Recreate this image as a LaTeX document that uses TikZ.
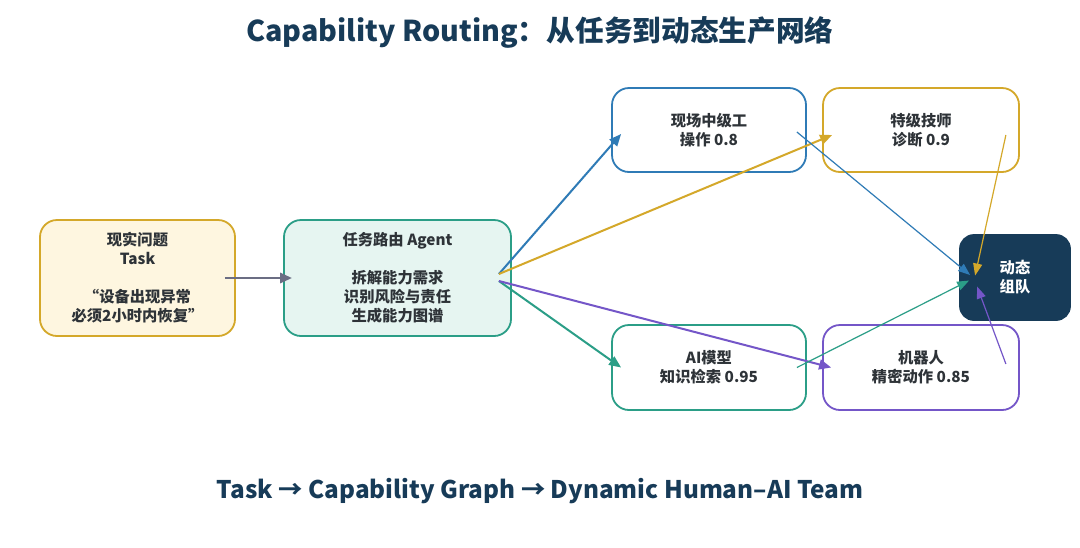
\documentclass[tikz,border=0pt]{standalone}
\usepackage{fontspec}
\setmainfont{Noto Sans CJK SC}
\usetikzlibrary{arrows.meta}
\definecolor{cgold}{HTML}{D4A82A}
\definecolor{cblue}{HTML}{2F7BB6}
\definecolor{cteal}{HTML}{2B9E87}
\definecolor{cpurple}{HTML}{7456C8}
\definecolor{cnavy}{HTML}{173B58}
\definecolor{cgray}{HTML}{6B6D83}
\definecolor{cyellowfill}{HTML}{FEF6E0}
\definecolor{ctealfill}{HTML}{E6F5F1}
\definecolor{ctext}{HTML}{2E3338}
\tikzset{
  box/.style={draw, line width=1.8pt, rounded corners=17pt, align=center, text=ctext,
    font=\fontsize{15.3}{19}\selectfont\bfseries, inner sep=0pt},
  thick arrow/.style={line width=2pt, -{Triangle[length=12pt,width=10pt]}},
  thin arrow/.style={line width=1.2pt, -{Triangle[length=12pt,width=9pt]}},
}
\begin{document}
\begin{tikzpicture}[x=1pt,y=-1pt]
\useasboundingbox[fill=white] (0,0) rectangle (1080,547);
\node[font=\fontsize{28.7}{32}\selectfont\bfseries, text=cnavy] (title) at (540,32) {Capability Routing：从任务到动态生产网络};
\node[font=\fontsize{24.3}{28}\selectfont\bfseries, text=cnavy] (footer) at (540,491) {Task → Capability Graph → Dynamic Human–AI Team};

\node[box, draw=cgold, fill=cyellowfill, minimum width=195pt, minimum height=116pt] (task) at (137.5,278)
  {现实问题\\Task\\~\\“设备出现异常\\必须2小时内恢复”};
\node[box, draw=cteal, fill=ctealfill, minimum width=227pt, minimum height=116pt] (agent) at (397.5,278)
  {任务路由 Agent\\~\\拆解能力需求\\识别风险与责任\\生成能力图谱};
\node[box, draw=cblue, fill=white, minimum width=194pt, minimum height=84pt] (w1) at (709,130)
  {现场中级工\\操作 0.8};
\node[box, draw=cgold, fill=white, minimum width=196pt, minimum height=84pt] (w2) at (921,130)
  {特级技师\\诊断 0.9};
\node[box, draw=cteal, fill=white, minimum width=194pt, minimum height=85pt] (ai) at (709,367.5)
  {AI模型\\知识检索 0.95};
\node[box, draw=cpurple, fill=white, minimum width=196pt, minimum height=85pt] (robot) at (921,367.5)
  {机器人\\精密动作 0.85};
\node[box, draw=cnavy, fill=cnavy, text=white, rounded corners=14pt, minimum width=110pt, minimum height=85pt] (team) at (1015,277.5)
  {动态\\组队};

\draw[thick arrow, cgray, line width=2.8pt] ([xshift=-11pt]task.east) -- ([xshift=9pt]agent.west);
\draw[thick arrow, cblue] ([xshift=-13pt,yshift=4pt]agent.east) -- ([xshift=10pt,yshift=-4pt]w1.west);
\draw[thick arrow, cgold] ([xshift=-13pt,yshift=4pt]agent.east) -- ([xshift=10pt,yshift=-5pt]w2.west);
\draw[thick arrow, cteal] ([xshift=-13pt,yshift=-3pt]agent.east) -- ([xshift=10pt]ai.west);
\draw[thick arrow, cpurple] ([xshift=-13pt,yshift=-3pt]agent.east) -- ([xshift=9pt]robot.west);

\draw[thin arrow, cblue] ([xshift=-10pt,yshift=-2pt]w1.east) -- ([xshift=11pt,yshift=2.5pt]team.west);
\draw[thin arrow, cgold] ([xshift=-14pt,yshift=-5pt]w2.east) -- ([xshift=16pt,yshift=2pt]team.west);
\draw[thin arrow, cteal] ([xshift=-10pt]ai.east) -- ([xshift=10pt,yshift=-3pt]team.west);
\draw[thin arrow, cpurple] ([xshift=-14pt,yshift=3.5pt]robot.east) -- ([xshift=18pt,yshift=-9pt]team.west);
\end{tikzpicture}
\end{document}
